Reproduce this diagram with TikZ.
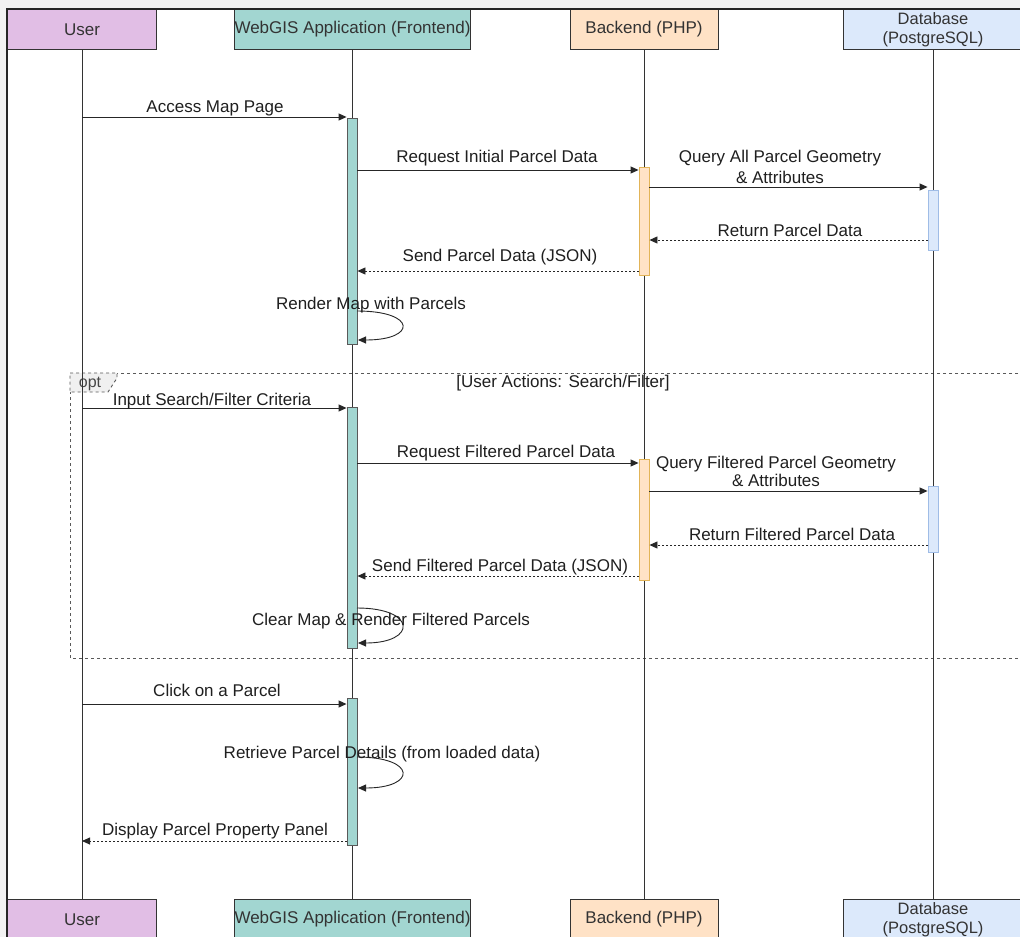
\documentclass[tikz,border=0pt]{standalone}
\usepackage{fontspec}
\setmainfont{Liberation Sans}
\usetikzlibrary{arrows.meta}
\definecolor{userfill}{HTML}{E1BEE5}
\definecolor{webfill}{HTML}{A2D6D1}
\definecolor{backfill}{HTML}{FFE2C6}
\definecolor{dbfill}{HTML}{DCE9FB}
\definecolor{backedge}{HTML}{E2B458}
\definecolor{dbedge}{HTML}{9FBCE6}
\definecolor{ink}{HTML}{333333}
\definecolor{outergray}{HTML}{F2F2F2}
\begin{document}
\begin{tikzpicture}[x=1pt,y=-1pt,
  font=\fontsize{17}{21}\selectfont,
  actor/.style={draw=ink, line width=1pt, minimum height=40pt, inner sep=0pt,
    text=ink, align=center, anchor=north},
  dbtext/.style={font=\fontsize{16.5}{19}\selectfont},
  actbar/.style={draw=#1, line width=0.9pt, minimum width=10pt, inner sep=0pt, anchor=north},
  lifeline/.style={draw=ink, line width=0.9pt},
  msg/.style={-{Triangle[length=8pt,width=7pt]}, line width=0.9pt, draw=black!85},
  retmsg/.style={msg, dash pattern=on 2pt off 2pt},
  lbl/.style={anchor=base, inner sep=0pt, text=black!88},
  optline/.style={draw=black!65, line width=0.9pt, dash pattern=on 3pt off 3pt}]

\useasboundingbox (0,0) rectangle (1020,937);
\fill[outergray] (0,0) rectangle (1020,937);
\fill[white] (7,9) rectangle (1020,937);

% header actors
\node[actor, fill=userfill, minimum width=149pt] (uTop) at (82,9) {User};
\node[actor, fill=webfill, minimum width=235pt] (wTop) at (352.5,9) {WebGIS Application (Frontend)};
\node[actor, fill=backfill, minimum width=148pt] (bTop) at (644,9) {Backend (PHP)};
\node[actor, fill=dbfill, minimum width=180pt, dbtext] (dTop) at (933,9) {Database\\(PostgreSQL)};

% footer actors
\node[actor, fill=userfill, minimum width=149pt] (uBot) at (82,899) {User};
\node[actor, fill=webfill, minimum width=235pt] (wBot) at (352.5,899) {WebGIS Application (Frontend)};
\node[actor, fill=backfill, minimum width=148pt] (bBot) at (644,899) {Backend (PHP)};
\node[actor, fill=dbfill, minimum width=180pt, dbtext] (dBot) at (933,899) {Database\\(PostgreSQL)};

% outer frame lines
\draw[black!85, line width=1.5pt] (7,937) -- (7,9) -- (1020,9);

% opt frame
\draw[optline] (70,373) rectangle (1030,658);
\draw[optline, fill=black!6] (70,373) -- (117,373) -- (117,378) -- (108,392) -- (70,392) -- cycle;
\node[text=black!72, font=\fontsize{16}{16}\selectfont, anchor=base, inner sep=0pt] (optLbl) at (90,387) {opt};
\node[lbl] (optCond) at (563,387) {[User Actions: Search/Filter]};

% lifelines
\draw[lifeline] (uTop.south) -- (uBot.north);
\draw[lifeline] (wTop.south -| 352,0) -- (wBot.north -| 352,0);
\draw[lifeline] (bTop.south) -- (bBot.north);
\draw[lifeline] (dTop.south) -- (dBot.north);

% activation bars
\node[actbar=black!65, fill=webfill, minimum height=226pt] (w1) at (352,118) {};
\node[actbar=black!65, fill=webfill, minimum height=241pt] (w2) at (352,407) {};
\node[actbar=black!65, fill=webfill, minimum height=147pt] (w3) at (352,698) {};
\node[actbar=backedge, fill=backfill, minimum height=108pt] (b1) at (644,167) {};
\node[actbar=backedge, fill=backfill, minimum height=121pt] (b2) at (644,459) {};
\node[actbar=dbedge, fill=dbfill, minimum height=60pt] (d1) at (933,190) {};
\node[actbar=dbedge, fill=dbfill, minimum height=66pt] (d2) at (933,486) {};

% message anchor coordinates
\coordinate (m1) at (82,117);
\coordinate (m2) at (357,170);
\coordinate (m3) at (649,187);
\coordinate (m4) at (928,240);
\coordinate (m5) at (639,271);
\coordinate (s1a) at (357,311);
\coordinate (s1b) at (358,340);
\coordinate (m7) at (82,408);
\coordinate (m8) at (357,463);
\coordinate (m9) at (649,491);
\coordinate (m10) at (928,545);
\coordinate (m11) at (639,576);
\coordinate (s2a) at (357,608);
\coordinate (s2b) at (358,643);
\coordinate (m13) at (82,704);
\coordinate (s3a) at (357,757);
\coordinate (s3b) at (358,788);
\coordinate (m15) at (347,841);

% messages
\draw[msg] (m1) -- (m1 -| w1.west);
\draw[msg] (m2) -- (m2 -| b1.west);
\draw[msg] (m3) -- (m3 -| d1.west);
\draw[retmsg] (m4) -- (m4 -| b1.east);
\draw[retmsg] (m5) -- (m5 -| w1.east);
\draw[msg] (s1a) .. controls (417,311) and (417,340) .. (s1b);
\draw[msg] (m7) -- (m7 -| w2.west);
\draw[msg] (m8) -- (m8 -| b2.west);
\draw[msg] (m9) -- (m9 -| d2.west);
\draw[retmsg] (m10) -- (m10 -| b2.east);
\draw[retmsg] (m11) -- (m11 -| w2.east);
\draw[msg] (s2a) .. controls (417,608) and (417,643) .. (s2b);
\draw[msg] (m13) -- (m13 -| w3.west);
\draw[msg] (s3a) .. controls (417,757) and (417,788) .. (s3b);
\draw[retmsg] (m15) -- (m15 -| uTop.south);

% labels
\node[lbl] (l1) at (215,112) {Access Map Page};
\node[lbl] (l2) at (497,162) {Request Initial Parcel Data};
\node[lbl] (l3a) at (780,162) {Query All Parcel Geometry};
\node[lbl] (l3b) at (780,183) {\& Attributes};
\node[lbl] (l4) at (790,236) {Return Parcel Data};
\node[lbl] (l5) at (500,261) {Send Parcel Data (JSON)};
\node[lbl] (l6) at (371,309) {Render Map with Parcels};
\node[lbl] (l7) at (212,405) {Input Search/Filter Criteria};
\node[lbl] (l8) at (506,457) {Request Filtered Parcel Data};
\node[lbl] (l9a) at (776,468) {Query Filtered Parcel Geometry};
\node[lbl] (l9b) at (776,486) {\& Attributes};
\node[lbl] (l10) at (792,540) {Return Filtered Parcel Data};
\node[lbl] (l11) at (500,571) {Send Filtered Parcel Data (JSON)};
\node[lbl] (l12) at (391,625) {Clear Map \& Render Filtered Parcels};
\node[lbl] (l13) at (217,696) {Click on a Parcel};
\node[lbl] (l14) at (382,758) {Retrieve Parcel Details (from loaded data)};
\node[lbl] (l15) at (215,835) {Display Parcel Property Panel};
\end{tikzpicture}
\end{document}
